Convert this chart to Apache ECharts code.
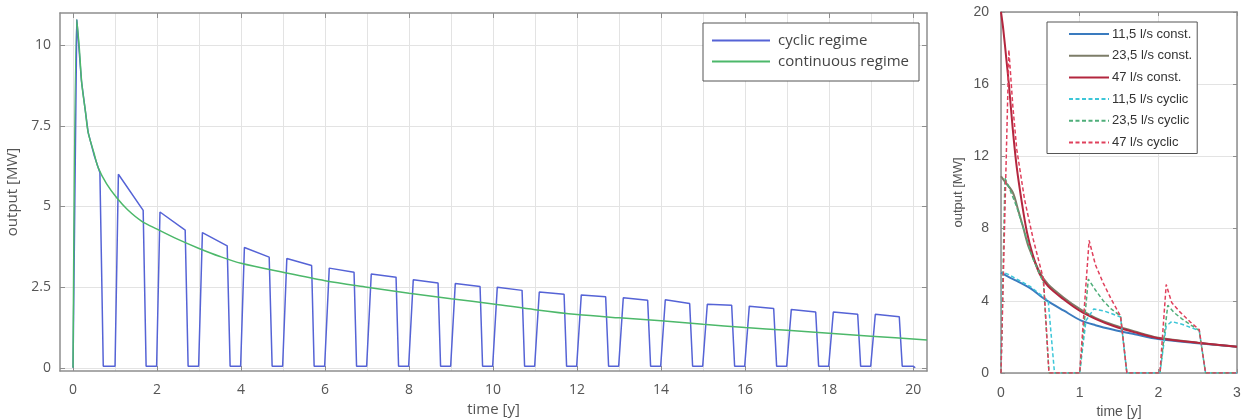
<!DOCTYPE html>
<html><head><meta charset="utf-8">
<script src="https://cdn.jsdelivr.net/npm/echarts@6/dist/echarts.min.js"></script>
<style>html,body{margin:0;padding:0;background:#fff}#c{width:1248px;height:419px}</style>
</head><body><div id="c"></div>
<script>
// ---- left chart data ----
const leftXTicks = [0, 2, 4, 6, 8, 10, 12, 14, 16, 18, 20];
const leftXGrid = [0,1,2,3,4,5,6,7,8,9,10,11,12,13,14,15,16,17,18,19,20];
const leftYTicks = [0, 2.5, 5, 7.5, 10];

const contT = [0, 0.09, 0.15, 0.21, 0.3, 0.36, 0.5, 0.6, 0.8, 1.04, 1.3, 1.63, 2, 2.5, 3, 3.5, 4, 5, 6, 7, 8, 9, 10, 11, 12, 13, 14, 15, 16, 17, 18, 19, 20.33];
const contV = [0, 10.8, 9.9, 8.8, 7.9, 7.3, 6.65, 6.2, 5.7, 5.27, 4.9, 4.55, 4.3, 3.98, 3.7, 3.45, 3.24, 2.96, 2.7, 2.5, 2.31, 2.14, 1.98, 1.8, 1.65, 1.55, 1.46, 1.35, 1.25, 1.16, 1.07, 0.98, 0.86];

const cyclicT = [0, 0.09, 0.2, 0.36, 0.5, 0.64, 0.72, 1.0,
  1.08, 1.67, 1.74, 1.99,  2.07, 2.67, 2.74, 2.99,  3.08, 3.67, 3.74, 3.99,
  4.08, 4.67, 4.74, 4.99,  5.09, 5.68, 5.74, 5.99,  6.1, 6.69, 6.75, 6.99,
  7.1, 7.69, 7.75, 7.99,  8.1, 8.69, 8.75, 8.99,  9.1, 9.69, 9.75, 9.99,
  10.1, 10.69, 10.75, 10.99,  11.1, 11.69, 11.75, 11.99,  12.1, 12.68, 12.75, 12.99,
  13.1, 13.68, 13.75, 13.99,  14.1, 14.68, 14.75, 14.99,  15.1, 15.68, 15.75, 15.99,
  16.1, 16.68, 16.75, 16.99,  17.1, 17.68, 17.75, 17.99,  18.1, 18.68, 18.75, 18.99,
  19.1, 19.67, 19.74, 20.0, 20.05];
const cyclicV = [0, 10.8, 8.9, 7.3, 6.6, 6.05, 0.05, 0.05,
  6.0, 4.88, 0.05, 0.05,  4.83, 4.27, 0.05, 0.05,  4.19, 3.78, 0.05, 0.05,
  3.73, 3.43, 0.05, 0.05,  3.39, 3.17, 0.05, 0.05,  3.09, 2.96, 0.05, 0.05,
  2.91, 2.81, 0.05, 0.05,  2.73, 2.63, 0.05, 0.05,  2.61, 2.52, 0.05, 0.05,
  2.50, 2.40, 0.05, 0.05,  2.35, 2.28, 0.05, 0.05,  2.26, 2.20, 0.05, 0.05,
  2.17, 2.09, 0.05, 0.05,  2.11, 1.99, 0.05, 0.05,  1.97, 1.94, 0.05, 0.05,
  1.91, 1.84, 0.05, 0.05,  1.81, 1.73, 0.05, 0.05,  1.73, 1.66, 0.05, 0.05,
  1.66, 1.58, 0.05, 0.05, 0];

// ---- right chart data ----
const c115T = [0, 0.09, 0.2, 0.37, 0.57, 0.8, 1.02, 1.2, 1.43, 1.7, 2.0, 2.5, 3.0];
const c115V = [5.56, 5.34, 5.1, 4.7, 4.05, 3.45, 2.9, 2.65, 2.4, 2.15, 1.88, 1.65, 1.46];
const c235T = [0, 0.05, 0.15, 0.22, 0.28, 0.35, 0.49, 0.6, 0.79, 1.0, 1.2, 1.43, 1.7, 2.0, 2.5, 3.0];
const c235V = [10.9, 10.6, 10.0, 9.0, 8.1, 7.0, 5.6, 4.9, 4.2, 3.55, 3.05, 2.66, 2.3, 1.95, 1.68, 1.46];
const c47T = [0, 0.03, 0.07, 0.1, 0.15, 0.2, 0.27, 0.33, 0.4, 0.49, 0.6, 0.79, 1.0, 1.2, 1.43, 1.7, 2.0, 2.5, 3.0];
const c47V = [20, 19, 17.3, 16, 13.5, 11.4, 9.3, 7.8, 6.6, 5.5, 4.8, 4.1, 3.45, 3.0, 2.6, 2.25, 1.93, 1.68, 1.46];

const y115T = [0, 0.02, 0.1, 0.2, 0.37, 0.6, 0.68, 1.0, 1.08, 1.18, 1.3, 1.4, 1.52, 1.6, 2.02, 2.1, 2.17, 2.3, 2.52, 2.6, 3.0];
const y115V = [0, 5.6, 5.45, 5.2, 4.8, 4.0, 0, 0, 2.9, 3.55, 3.45, 3.3, 3.1, 0, 0, 2.6, 2.85, 2.7, 2.35, 0, 0];
const y235T = [0, 0.05, 0.1, 0.2, 0.3, 0.4, 0.54, 0.61, 1.0, 1.11, 1.2, 1.3, 1.4, 1.52, 1.6, 2.02, 2.12, 2.2, 2.3, 2.4, 2.52, 2.6, 3.0];
const y235V = [0, 10.8, 10.3, 9.2, 7.8, 6.4, 5.0, 0, 0, 5.2, 4.6, 4.0, 3.55, 3.15, 0, 0, 3.75, 3.35, 3.0, 2.7, 2.35, 0, 0];
const y47T = [0, 0.1, 0.15, 0.2, 0.3, 0.41, 0.54, 0.61, 1.0, 1.12, 1.2, 1.3, 1.4, 1.52, 1.6, 2.02, 2.1, 2.17, 2.27, 2.4, 2.52, 2.6, 3.0];
const y47V = [0, 17.9, 14.8, 12.4, 9.6, 7.4, 5.2, 0, 0, 7.35, 6.0, 4.98, 4.1, 3.15, 0, 0, 4.9, 3.9, 3.4, 2.85, 2.4, 0, 0];

const zip = (t, v) => t.map((x, i) => [x, v[i]]);

const frame = '#8e8e8e';
const gridC = '#e3e3e3';
const txt = '#555';
const LF = 'Open Sans';
const RF = 'Liberation Sans';
const line = (w) => ({show: true, onZero: false, lineStyle: {color: frame, width: w}});

const chart = echarts.init(document.getElementById('c'));
chart.setOption({
  animation: false,
  grid: [
    {left: 60, top: 13, width: 867, height: 358, containLabel: false, outerBoundsMode: 'none'},
    {left: 1001, top: 12, width: 236, height: 361, containLabel: false, outerBoundsMode: 'none'}
  ],
  legend: [
    {
      data: ['cyclic regime', 'continuous regime'],
      orient: 'vertical', left: 703, top: 23,
      padding: [10, 10, 12, 8], itemWidth: 58, itemHeight: 14, itemGap: 6,
      borderColor: '#555', borderWidth: 1, backgroundColor: '#fff',
      itemStyle: {opacity: 0},
      textStyle: {fontFamily: LF, fontSize: 15, color: '#444', padding: [0, 0, 0, 3]}
    },
    {
      data: ['11,5 l/s const.', '23,5 l/s const.', '47 l/s const.', '11,5 l/s cyclic', '23,5 l/s cyclic', '47 l/s cyclic'],
      orient: 'vertical', left: 1047, top: 22,
      padding: [5, 5, 4, 21], itemWidth: 40, itemHeight: 14, itemGap: 7.7,
      borderColor: '#555', borderWidth: 1, backgroundColor: '#fff',
      itemStyle: {opacity: 0},
      textStyle: {fontFamily: RF, fontSize: 13, color: '#333', padding: [0, 0, 0, -2], lineHeight: 14}
    }
  ],
  xAxis: [
    {type: 'value', gridIndex: 0, min: -0.31, max: 20.33, position: 'bottom',
     axisLine: line(1.5),
     axisTick: {show: true, inside: true, length: 5, customValues: leftXTicks, lineStyle: {color: frame}},
     axisLabel: {customValues: leftXTicks, margin: 12, fontFamily: LF, fontSize: 14, color: txt},
     splitLine: {show: false},
     name: 'time [y]', nameLocation: 'middle', nameGap: 29,
     nameTextStyle: {fontFamily: LF, fontSize: 15, color: txt}},
    {type: 'value', gridIndex: 0, min: -0.31, max: 20.33, position: 'top',
     axisLine: line(1.5),
     axisTick: {show: true, inside: true, length: 5, customValues: leftXTicks, lineStyle: {color: frame}},
     axisLabel: {show: false}, splitLine: {show: false}},
    {type: 'value', gridIndex: 0, min: -0.31, max: 20.33, position: 'bottom',
     axisLine: {show: false, onZero: false},
     axisTick: {show: false, customValues: leftXGrid},
     axisLabel: {show: false},
     splitLine: {show: true, lineStyle: {color: gridC, width: 1}}},
    {type: 'value', gridIndex: 1, min: 0, max: 3, interval: 1, position: 'bottom',
     axisLine: line(1.5),
     axisTick: {show: true, inside: true, length: 4, lineStyle: {color: frame}},
     axisLabel: {margin: 13, fontFamily: RF, fontSize: 14, color: txt},
     splitLine: {show: true, lineStyle: {color: gridC}},
     name: 'time [y]', nameLocation: 'middle', nameGap: 22,
     nameTextStyle: {fontFamily: RF, fontSize: 14, color: txt}},
    {type: 'value', gridIndex: 1, min: 0, max: 3, interval: 1, position: 'top',
     axisLine: line(1.5),
     axisTick: {show: true, inside: true, length: 4, lineStyle: {color: frame}},
     axisLabel: {show: false}, splitLine: {show: false}}
  ],
  yAxis: [
    {type: 'value', gridIndex: 0, min: -0.1, max: 11, position: 'left',
     axisLine: line(1.5),
     axisTick: {show: true, inside: true, length: 5, customValues: leftYTicks, lineStyle: {color: frame}},
     axisLabel: {customValues: leftYTicks, margin: 9, fontFamily: LF, fontSize: 14, color: txt},
     splitLine: {show: true, lineStyle: {color: gridC}},
     name: 'output [MW]', nameLocation: 'middle', nameGap: 27, nameRotate: 90,
     nameTextStyle: {fontFamily: LF, fontSize: 15, color: txt}},
    {type: 'value', gridIndex: 0, min: -0.1, max: 11, position: 'right',
     axisLine: line(1.5),
     axisTick: {show: true, inside: true, length: 5, customValues: leftYTicks, lineStyle: {color: frame}},
     axisLabel: {show: false}, splitLine: {show: false}},
    {type: 'value', gridIndex: 1, min: 0, max: 20, interval: 4, position: 'left',
     axisLine: line(1.5),
     axisTick: {show: true, inside: true, length: 4, lineStyle: {color: frame}},
     axisLabel: {margin: 12, fontFamily: RF, fontSize: 14, color: txt},
     splitLine: {show: true, lineStyle: {color: gridC}},
     name: 'output [MW]', nameLocation: 'middle', nameGap: 36, nameRotate: 90,
     nameTextStyle: {fontFamily: RF, fontSize: 13, color: txt}},
    {type: 'value', gridIndex: 1, min: 0, max: 20, interval: 4, position: 'right',
     axisLine: line(1.5),
     axisTick: {show: true, inside: true, length: 4, lineStyle: {color: frame}},
     axisLabel: {show: false}, splitLine: {show: false}}
  ],
  series: [
    {name: 'cyclic regime', type: 'line', xAxisIndex: 0, yAxisIndex: 0, symbol: 'none',
     data: zip(cyclicT, cyclicV), lineStyle: {color: '#5563d6', width: 1.5}, itemStyle: {color: '#5563d6'}},
    {name: 'continuous regime', type: 'line', xAxisIndex: 0, yAxisIndex: 0, symbol: 'none', smooth: 0.3,
     data: zip(contT, contV), lineStyle: {color: '#4cb86a', width: 1.5}, itemStyle: {color: '#4cb86a'}},

    {name: '11,5 l/s const.', type: 'line', xAxisIndex: 3, yAxisIndex: 2, symbol: 'none', smooth: 0.3,
     data: zip(c115T, c115V), lineStyle: {color: '#3a7bbf', width: 2}, itemStyle: {color: '#3a7bbf'}},
    {name: '23,5 l/s const.', type: 'line', xAxisIndex: 3, yAxisIndex: 2, symbol: 'none', smooth: 0.3,
     data: zip(c235T, c235V), lineStyle: {color: '#7d7d68', width: 2}, itemStyle: {color: '#7d7d68'}},
    {name: '47 l/s const.', type: 'line', xAxisIndex: 3, yAxisIndex: 2, symbol: 'none', smooth: 0.3,
     data: zip(c47T, c47V), lineStyle: {color: '#b3263e', width: 2}, itemStyle: {color: '#b3263e'}},
    {name: '11,5 l/s cyclic', type: 'line', xAxisIndex: 3, yAxisIndex: 2, symbol: 'none',
     data: zip(y115T, y115V), lineStyle: {color: '#3cc6d8', width: 1.5, type: [4, 2.5]}, itemStyle: {color: '#3cc6d8'}},
    {name: '23,5 l/s cyclic', type: 'line', xAxisIndex: 3, yAxisIndex: 2, symbol: 'none',
     data: zip(y235T, y235V), lineStyle: {color: '#4fae7a', width: 1.5, type: [4, 2.5]}, itemStyle: {color: '#4fae7a'}},
    {name: '47 l/s cyclic', type: 'line', xAxisIndex: 3, yAxisIndex: 2, symbol: 'none',
     data: zip(y47T, y47V), lineStyle: {color: '#e0405c', width: 1.5, type: [4, 2.5]}, itemStyle: {color: '#e0405c'}}
  ]
});
</script>
</body></html>
